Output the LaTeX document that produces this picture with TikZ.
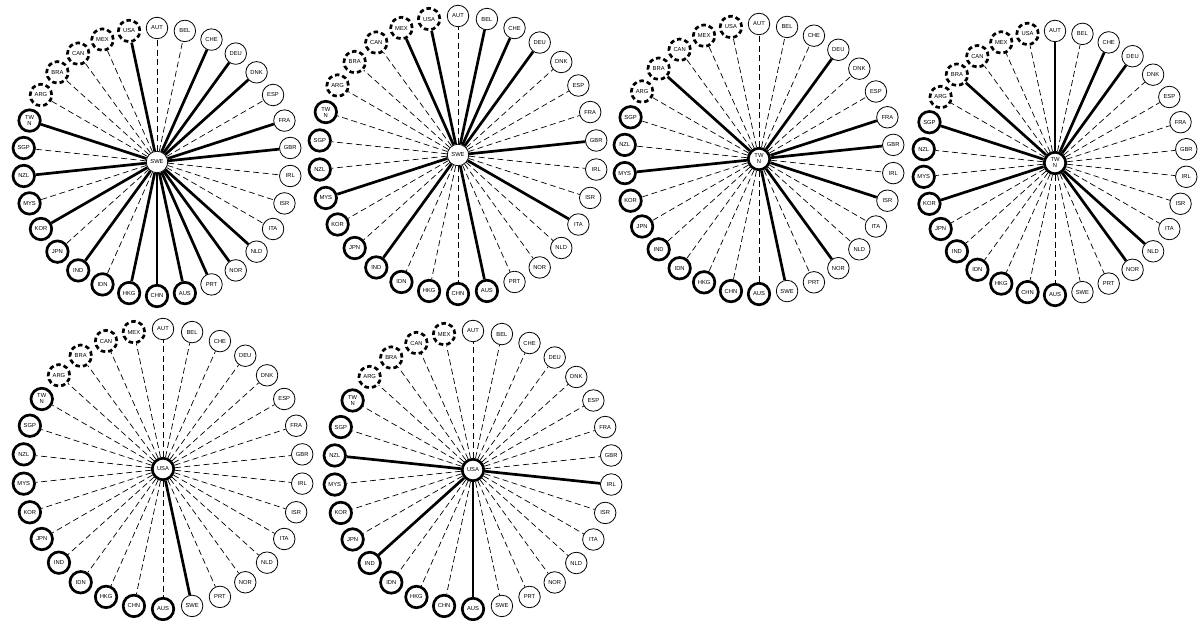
\documentclass[tikz,border=0pt]{standalone}
\usepackage{fontspec}
\newfontfamily\countryfont{Liberation Sans}
\usepackage{tikz}

\tikzset{
  eu/.style={circle, draw, fill=white, minimum size=21.5pt, inner sep=0pt, align=center,
    line width=0.8pt, font=\countryfont\fontsize{5.8}{6}\selectfont},
  ap/.style={eu, line width=2.7pt},
  am/.style={ap, dash pattern=on 4.5pt off 3pt},
  strong/.style={line width=2.7pt},
  weak/.style={line width=0.7pt, dash pattern=on 6pt off 3.5pt},
}

\def\countries{AUT/eu, BEL/eu, CHE/eu, DEU/eu, DNK/eu, ESP/eu, FRA/eu, GBR/eu, IRL/eu, ISR/eu,%
  ITA/eu, NLD/eu, NOR/eu, PRT/eu, SWE/eu, AUS/ap, CHN/ap, HKG/ap, IDN/ap, IND/ap, JPN/ap,%
  KOR/ap, MYS/ap, NZL/ap, SGP/ap, TWN/ap, ARG/am, BRA/am, CAN/am, MEX/am, USA/am}
\def\twnname{TWN}
\newcommand\cname[1]{\edef\tmpname{#1}\ifx\tmpname\twnname TW\\N\else#1\fi}

\newcount\spoke
\makeatletter
% #1 prefix, #2 hub position, #3 radius, #4 hub country, #5 hub style, #6 strong partners
\newcommand\wheel[6]{%
  \node[#5] (#1-#4) at (#2) {\cname{#4}};
  \global\spoke=0
  \foreach \ctry/\grp in \countries {%
    \def\hub{#4}%
    \ifx\ctry\hub\else
      \pgfmathsetmacro\ang{90-12*\the\spoke}%
      \node[\grp] (#1-\ctry) at ([shift={(\ang:#3)}]#1-#4) {\cname{\ctry}};
      \edef\tmp{\noexpand\in@{,\ctry,}{,#6,}}\tmp
      \ifin@ \draw[strong] (#1-#4) -- (#1-\ctry);
      \else \draw[weak] (#1-#4) -- (#1-\ctry); \fi
      \global\advance\spoke by 1
    \fi
  }}
\makeatother

\begin{document}
\begin{tikzpicture}[x=1pt,y=1pt]
  \useasboundingbox (0,0) rectangle (1203,621);
  % top row
  \wheel{a}{157,459}{134}{SWE}{eu}{USA,CHE,DEU,DNK,FRA,GBR,NLD,NOR,PRT,AUS,CHN,HKG,IND,KOR,NZL,TWN}
  \wheel{b}{458,466}{139}{SWE}{eu}{USA,MEX,BEL,CHE,DEU,GBR,ITA,AUS,IND,MYS}
  \wheel{c}{759,462}{135}{TWN}{ap}{BRA,DEU,FRA,GBR,ISR,NOR,SWE,MYS}
  \wheel{d}{1055,458}{132}{TWN}{ap}{BRA,AUT,CHE,DEU,NLD,NOR,KOR,SGP}
  % bottom row
  \wheel{e}{163,152}{140}{USA}{ap}{SWE}
  \wheel{f}{473,151}{139}{USA}{ap}{NZL,IRL,IND,AUS}
\end{tikzpicture}
\end{document}
